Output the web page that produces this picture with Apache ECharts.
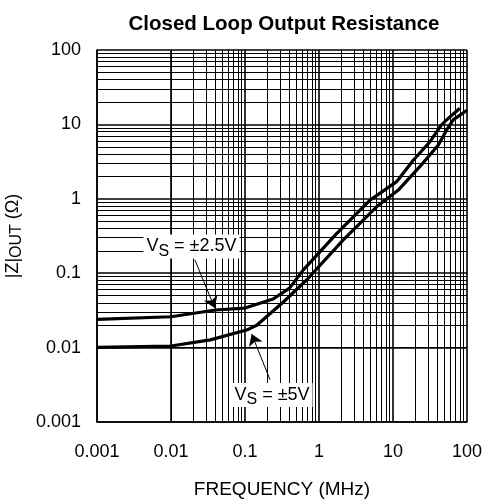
<!DOCTYPE html>
<html>
<head>
<meta charset="utf-8">
<script src="https://cdn.jsdelivr.net/npm/echarts@6/dist/echarts.min.js"></script>
<style>
html,body{margin:0;padding:0;background:#fff;}
#chart{width:484px;height:500px;}
</style>
</head>
<body>
<div id="chart"></div>
<script>
// ---- data ----
const freq25 = [0.001, 0.01, 0.04, 0.1, 0.24, 0.4, 0.61, 1.73, 4.9, 11.2, 18.8, 31.6, 45, 53, 80];
const zout25 = [0.024, 0.026, 0.032, 0.034, 0.045, 0.063, 0.11, 0.34, 0.96, 1.7, 3.3, 5.85, 9.8, 11.5, 16.5];

const freq5 = [0.001, 0.01, 0.034, 0.105, 0.144, 0.33, 0.68, 2.13, 6.0, 11.8, 23, 41, 53, 65, 100];
const zout5 = [0.0101, 0.0105, 0.0127, 0.0172, 0.020, 0.041, 0.081, 0.28, 0.78, 1.31, 2.7, 5.3, 8.4, 11.5, 15.5];

const xTickLabels = ['0.001', '0.01', '0.1', '1', '10', '100'];
const yTickLabels = ['0.001', '0.01', '0.1', '1', '10', '100'];
const xDecades = [0.001, 0.01, 0.1, 1, 10];
const yDecades = [0.001, 0.01, 0.1, 1, 10];
const minorMultipliers = [2, 3, 4, 5, 6, 7, 8, 9];

// annotation anchors (data coordinates)
const label25 = [0.0189, 0.229];
const arrow25 = [[0.0211, 0.150], [0.039, 0.034]];
const label5 = [0.232, 0.0023];
const arrow5 = [[0.218, 0.0037], [0.123, 0.0152]];

// ---- build ----
const FONT = '"Liberation Sans", Arial, Helvetica, sans-serif';
function minorValues(decades) {
  const out = [];
  decades.forEach(d => minorMultipliers.forEach(m => out.push(Number((d * m).toPrecision(3)))));
  return out;
}
function tickFmt(labels) {
  return function (v) {
    const i = Math.round(Math.log10(v)) + 3;
    return labels[i] !== undefined ? labels[i] : '';
  };
}
const pairs = (xs, ys) => xs.map((x, i) => [x, ys[i]]);

const minorX = minorValues(xDecades).map(v => ({ xAxis: v }));
const minorY = minorValues(yDecades).map(v => ({ yAxis: v }));

const labelRich = {
  v: { fontSize: 18, fontFamily: FONT, color: '#000', lineHeight: 22 },
  s: { fontSize: 16, fontFamily: FONT, color: '#000', lineHeight: 16, padding: [10, 0, 0, 0] }
};

const chart = echarts.init(document.getElementById('chart'), null, { renderer: 'canvas' });
chart.setOption({
  backgroundColor: '#fff',
  animation: false,
  title: {
    text: 'Closed Loop Output Resistance',
    left: 279, top: 9, textAlign: 'center',
    textStyle: { fontSize: 20.5, fontWeight: 'bold', fontFamily: FONT, color: '#000' }
  },
  grid: { left: 97, right: 17, top: 50, bottom: 78, containLabel: false, outerBoundsMode: 'none' },
  xAxis: {
    type: 'log', logBase: 10, min: 0.001, max: 100,
    name: 'FREQUENCY (MHz)', nameLocation: 'middle', nameGap: 58,
    nameTextStyle: { fontSize: 19, fontFamily: FONT, color: '#000' },
    axisLine: { show: true, onZero: false, lineStyle: { color: '#000', width: 1.5 } },
    axisTick: { show: false },
    axisLabel: { fontSize: 18, fontFamily: FONT, color: '#000', margin: 21, formatter: tickFmt(xTickLabels) },
    splitLine: { show: true, lineStyle: { color: '#000', width: 1.6 } },
    minorTick: { show: false }, minorSplitLine: { show: false }
  },
  yAxis: {
    type: 'log', logBase: 10, min: 0.001, max: 100,
    name: '{a||Z|}{b|OUT}{a| (Ω)}', nameLocation: 'middle', nameGap: 70, nameRotate: 90,
    nameTextStyle: {
      fontFamily: FONT, color: '#000',
      rich: {
        a: { fontSize: 18, fontFamily: FONT, color: '#000', lineHeight: 22 },
        b: { fontSize: 16, fontFamily: FONT, color: '#000', lineHeight: 16, padding: [8, 0, 0, 0] }
      }
    },
    axisLine: { show: true, onZero: false, lineStyle: { color: '#000', width: 1.5 } },
    axisTick: { show: false },
    axisLabel: { fontSize: 18, fontFamily: FONT, color: '#000', margin: 16, formatter: tickFmt(yTickLabels) },
    splitLine: { show: true, lineStyle: { color: '#000', width: 1.6 } },
    minorTick: { show: false }, minorSplitLine: { show: false }
  },
  series: [
    {
      name: 'grid-minor', type: 'line', data: [], z: 1, silent: true,
      markLine: {
        silent: true, symbol: ['none', 'none'], animation: false,
        label: { show: false },
        lineStyle: { color: '#000', width: 1, type: 'solid' },
        emphasis: { disabled: true },
        data: minorX.concat(minorY)
      }
    },
    {
      name: 'VS = ±2.5V', type: 'line', data: pairs(freq25, zout25), z: 3,
      showSymbol: false, symbol: 'none',
      lineStyle: { color: '#000', width: 3.2 },
      markLine: {
        silent: true, symbol: ['none', 'arrow'], symbolSize: 11, animation: false,
        label: { show: false },
        lineStyle: { color: '#000', width: 1, type: 'solid' },
        data: [[{ coord: arrow25[0] }, { coord: arrow25[1] }]]
      },
      markPoint: {
        silent: true, symbol: 'rect', symbolSize: 0, animation: false, z: 5,
        label: {
          show: true, position: 'inside',
          formatter: '{v|V}{s|S}{v| = ±2.5V}',
          backgroundColor: '#fff', padding: [1, 3, 1, 3],
          rich: labelRich
        },
        data: [{ coord: label25, value: 0 }]
      }
    },
    {
      name: 'VS = ±5V', type: 'line', data: pairs(freq5, zout5), z: 3,
      showSymbol: false, symbol: 'none',
      lineStyle: { color: '#000', width: 3.2 },
      markLine: {
        silent: true, symbol: ['none', 'arrow'], symbolSize: 11, animation: false,
        label: { show: false },
        lineStyle: { color: '#000', width: 1, type: 'solid' },
        data: [[{ coord: arrow5[0] }, { coord: arrow5[1] }]]
      },
      markPoint: {
        silent: true, symbol: 'rect', symbolSize: 0, animation: false, z: 5,
        label: {
          show: true, position: 'inside',
          formatter: '{v|V}{s|S}{v| = ±5V}',
          backgroundColor: '#fff', padding: [1, 3, 1, 3],
          rich: labelRich
        },
        data: [{ coord: label5, value: 0 }]
      }
    }
  ]
});
</script>
</body>
</html>
